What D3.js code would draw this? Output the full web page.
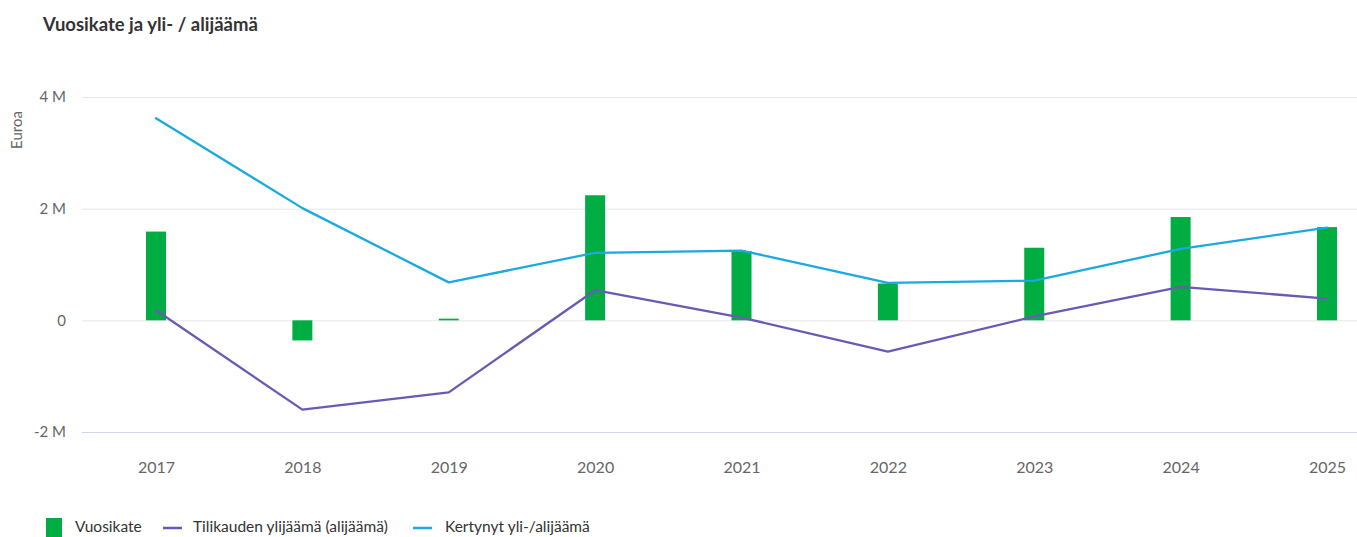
<!DOCTYPE html>
<html>
<head>
<meta charset="utf-8" />
<title>Vuosikate ja yli- / alijäämä</title>
<script src="https://cdn.jsdelivr.net/npm/d3@7"></script>
<style>
    body { margin: 0; background: #fff; font-family: Lato, "Open Sans", sans-serif; }
    .title { font-weight: bold; font-size: 18.5px; fill: #333; }
    .tick text { fill: #666; font-family: Lato, sans-serif; }
    .legend text { fill: #333; font-size: 15.5px; }
</style>
</head>
<body>
<div id="chart"></div>
<script>
    // data
    var years = ["2017", "2018", "2019", "2020", "2021", "2022", "2023", "2024", "2025"];
    var vuosikate = [1.59, -0.36, 0.03, 2.24, 1.24, 0.66, 1.30, 1.85, 1.67];
    var tilikauden = [0.18, -1.60, -1.29, 0.54, 0.05, -0.56, 0.07, 0.60, 0.39];
    var kertynyt = [3.62, 2.01, 0.68, 1.21, 1.25, 0.67, 0.71, 1.28, 1.66];
    var yTicks = [-2, 0, 2, 4];
    var seriesNames = ["Vuosikate", "Tilikauden ylijäämä (alijäämä)", "Kertynyt yli-/alijäämä"];
    var colors = ["#00ad42", "#6a5ab3", "#1aa9e0"];

    var W = 1357, H = 537;
    var left = 82, right = 1357;

    var svg = d3.select("#chart").append("svg")
        .attr("width", W).attr("height", H);

    svg.append("text").attr("class", "title")
        .attr("x", 43).attr("y", 31)
        .text("Vuosikate ja yli- / alijäämä");

    var x = d3.scalePoint().domain(years).range([156, 1327]);
    var y = d3.scaleLinear().domain([-2, 4]).range([432, 97]);

    // gridlines + y labels
    var yAxis = svg.append("g").attr("transform", "translate(" + left + ",0)")
        .call(d3.axisLeft(y).tickValues(yTicks)
            .tickSize(-(right - left))
            .tickFormat(function (d) { return d === 0 ? "0" : d + " M"; }));
    yAxis.select(".domain").remove();
    yAxis.selectAll(".tick line").attr("stroke", function (d) { return d === -2 ? "#ccd6eb" : "#e6e6e6"; });
    yAxis.selectAll(".tick text").attr("x", -16).style("font-size", "15px");

    svg.append("text")
        .attr("transform", "translate(22,130) rotate(-90)")
        .attr("text-anchor", "middle")
        .style("font-size", "15px").style("fill", "#666")
        .text("Euroa");

    // x labels
    var xAxis = svg.append("g").attr("transform", "translate(0,432)")
        .call(d3.axisBottom(x).tickSize(0).tickPadding(30));
    xAxis.select(".domain").remove();
    xAxis.selectAll(".tick text").style("font-size", "16px");

    // bars
    var bw = 20;
    svg.append("g").selectAll("rect")
        .data(vuosikate)
        .enter().append("rect")
        .attr("x", function (d, i) { return x(years[i]) - bw / 2; })
        .attr("y", function (d) { return y(Math.max(0, d)); })
        .attr("width", bw)
        .attr("height", function (d) { return Math.max(1, Math.abs(y(d) - y(0))); })
        .attr("fill", colors[0]);

    // lines
    var line = d3.line()
        .x(function (d, i) { return x(years[i]); })
        .y(function (d) { return y(d); });

    [tilikauden, kertynyt].forEach(function (s, k) {
        svg.append("path")
            .datum(s)
            .attr("d", line)
            .attr("fill", "none")
            .attr("stroke", colors[k + 1])
            .attr("stroke-width", 2.3)
            .attr("stroke-linejoin", "round")
            .attr("stroke-linecap", "round");
    });

    // legend
    var lg = svg.append("g").attr("class", "legend");
    var lx = [46, 163, 413];
    var tx = [75, 193, 445];
    seriesNames.forEach(function (name, i) {
        if (i === 0) {
            lg.append("rect").attr("x", lx[i]).attr("y", 518)
                .attr("width", 16).attr("height", 19).attr("fill", colors[i]);
        } else {
            lg.append("line").attr("x1", lx[i]).attr("x2", lx[i] + 19)
                .attr("y1", 528).attr("y2", 528)
                .attr("stroke", colors[i]).attr("stroke-width", 2.5);
        }
        lg.append("text").attr("x", tx[i]).attr("y", 532).text(name);
    });
</script>
</body>
</html>
